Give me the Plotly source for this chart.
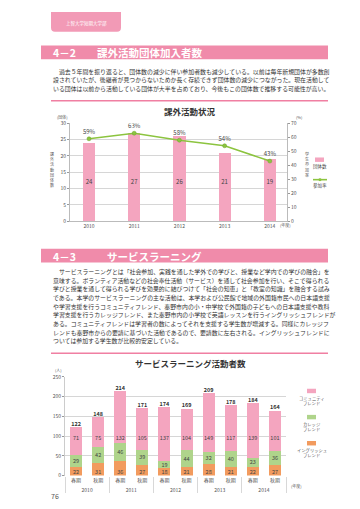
import plotly.graph_objects as go

W, H = 360, 509
def X(p): return p / W
def Y(p): return 1 - p / H

FONT = "Noto Sans CJK JP"

# ---- chart 1 data: 課外活動状況 ----
years1 = ["2010", "2011", "2012", "2013", "2014"]
groups = [24, 27, 26, 21, 19]          # 団体数
rate = [59, 63, 58, 54, 43]            # 参加率 (%)

# ---- chart 2 data: サービスラーニング活動者数 ----
sl_years = ["2010", "2010", "2011", "2011", "2012", "2012", "2013", "2013", "2014", "2014"]
sl_terms = ["春期", "秋期"] * 5
community = [71, 75, 132, 105, 137, 104, 149, 117, 139, 101]
college = [29, 42, 46, 39, 19, 44, 32, 40, 23, 36]
english = [22, 31, 36, 27, 18, 21, 28, 21, 22, 27]
totals = [122, 148, 214, 171, 174, 169, 209, 178, 184, 164]

PINK_HEAD = "#F08BAA"
PINK_BAR = "#F4A5BF"
GREEN_LINE = "#8CC43F"
GREEN_BAR = "#AFD48B"
ORANGE = "#F29B5E"
TXT = "#333333"
GRID = "#d6d6d6"

fig = go.Figure()

# chart 1
fig.add_trace(go.Bar(x=years1, y=groups, marker=dict(color=PINK_BAR, line=dict(width=0)),
                     width=0.27, xaxis="x", yaxis="y", showlegend=False, hoverinfo="skip"))
fig.add_trace(go.Scatter(x=years1, y=[12] * len(years1), mode="text", text=[str(v) for v in groups],
                         textfont=dict(size=6, color="#444", family=FONT),
                         xaxis="x", yaxis="y", showlegend=False, hoverinfo="skip"))
fig.add_trace(go.Scatter(x=years1, y=rate, mode="lines+markers+text",
                         text=[f"{v}%" for v in rate], textposition="top center",
                         textfont=dict(size=6, color="#444", family=FONT),
                         line=dict(color=GREEN_LINE, width=1.6),
                         marker=dict(size=4, color=GREEN_LINE, line=dict(width=0.5, color="#6aa22a")),
                         xaxis="x", yaxis="y2", showlegend=False, hoverinfo="skip"))

# chart 2
xm = [sl_years, sl_terms]
fig.add_trace(go.Bar(x=xm, y=english, marker=dict(color=ORANGE, line=dict(width=0)), width=0.54,
                     xaxis="x2", yaxis="y3", showlegend=False, hoverinfo="skip"))
fig.add_trace(go.Bar(x=xm, y=college, marker=dict(color=GREEN_BAR, line=dict(width=0)), width=0.54,
                     text=[str(v) for v in college], textposition="inside", insidetextanchor="middle",
                     textangle=0, constraintext="none",
                     textfont=dict(size=5.5, color="#444", family=FONT),
                     xaxis="x2", yaxis="y3", showlegend=False, hoverinfo="skip"))
fig.add_trace(go.Bar(x=xm, y=community, marker=dict(color=PINK_BAR, line=dict(width=0)), width=0.54,
                     xaxis="x2", yaxis="y3", showlegend=False, hoverinfo="skip"))
fig.add_trace(go.Scatter(x=xm, y=[8] * 10, mode="text", text=[str(v) for v in english],
                         textfont=dict(size=5.5, color="#444", family=FONT),
                         xaxis="x2", yaxis="y3", showlegend=False, hoverinfo="skip"))
fig.add_trace(go.Scatter(x=xm, y=[93] * 10, mode="text", text=[str(v) for v in community],
                         textfont=dict(size=5.5, color="#444", family=FONT),
                         xaxis="x2", yaxis="y3", showlegend=False, hoverinfo="skip"))
fig.add_trace(go.Scatter(x=xm, y=totals, mode="text", text=[f"<b>{v}</b>" for v in totals],
                         textposition="top center",
                         textfont=dict(size=5.5, color="#333", family=FONT),
                         xaxis="x2", yaxis="y3", showlegend=False, hoverinfo="skip"))

axis_font = dict(size=5, color="#555", family=FONT)

fig.update_layout(
    width=W, height=H, margin=dict(l=0, r=0, t=0, b=0),
    paper_bgcolor="white", plot_bgcolor="white",
    barmode="stack", font=dict(family=FONT, color=TXT),
    xaxis=dict(domain=[X(62), X(279)], anchor="y", type="category", range=[-0.42, 4.38],
               showline=True, linecolor="#bbbbbb", linewidth=1, ticks="", tickfont=axis_font,
               showgrid=False, fixedrange=True),
    yaxis=dict(domain=[Y(212), Y(113)], anchor="x", range=[0, 30], dtick=5,
               showgrid=True, gridcolor=GRID, gridwidth=1, showline=True, linecolor="#bbbbbb",
               ticks="outside", ticklen=2, tickcolor="#999", tickfont=axis_font, zeroline=False),
    yaxis2=dict(overlaying="y", side="right", anchor="x", range=[0, 70], dtick=10,
                showgrid=False, showline=True, linecolor="#bbbbbb",
                ticks="outside", ticklen=2, tickcolor="#999", tickfont=axis_font, zeroline=False),
    xaxis2=dict(domain=[X(57), X(278)], anchor="y3", type="multicategory",
                showdividers=True, dividercolor="#d8d8d8", dividerwidth=1,
                tickfont=axis_font, showgrid=False, showline=False, ticks=""),
    yaxis3=dict(domain=[Y(470), Y(370)], anchor="x2", range=[0, 250], dtick=50,
                showgrid=True, gridcolor=GRID, gridwidth=1, showline=True, linecolor="#cccccc",
                ticks="outside", ticklen=2, tickcolor="#999", tickfont=axis_font, zeroline=False),
)

shapes = []
ann = []

def text(px, py, s, size=6, color=TXT, xanchor="left", yanchor="middle", align="left"):
    ann.append(dict(x=X(px), y=Y(py), xref="paper", yref="paper", text=s, showarrow=False,
                    xanchor=xanchor, yanchor=yanchor, align=align,
                    font=dict(size=size, color=color, family=FONT)))

# top tab with rounded bottom corners
x0, x1, y0, y1, r = 43, 113, 0, 20, 4
path = (f"M {X(x0)},{Y(y0)} L {X(x1)},{Y(y0)} L {X(x1)},{Y(y1 - r)} "
        f"Q {X(x1)},{Y(y1)} {X(x1 - r)},{Y(y1)} L {X(x0 + r)},{Y(y1)} "
        f"Q {X(x0)},{Y(y1)} {X(x0)},{Y(y1 - r)} Z")
shapes.append(dict(type="path", path=path, xref="paper", yref="paper",
                   fillcolor="#F29AB6", line=dict(width=0)))
text(78, 12, "上智大学短期大学部", size=4.5, color="white", xanchor="center")

# section headers
for (ya, yb, num, title, tx) in [(34, 48, "4－2", "課外活動団体加入者数", 87),
                                 (240, 254, "4－3", "サービスラーニング", 97)]:
    shapes.append(dict(type="rect", xref="paper", yref="paper", x0=X(33), x1=X(320),
                       y0=Y(yb), y1=Y(ya), fillcolor=PINK_HEAD, line=dict(width=0)))
    text(43, (ya + yb) / 2 + 0.5, f"<b>{num}</b>", size=10.5, color="white")
    text(tx, (ya + yb) / 2 + 0.5, f"<b>{title}</b>", size=10.5, color="white")

# paragraph 1
p1 = ["　過去５年間を振り返ると、団体数の減少に伴い参加者数も減少している。以前は毎年新規団体が多数創",
      "設されていたが、後継者が見つからないためか長く存続できず団体数の減少につながった。現在活動して",
      "いる団体は以前から活動している団体が大半を占めており、今後もこの団体数で推移する可能性が高い。"]
for i, s in enumerate(p1):
    text(43, 60 + i * 8.6, s, size=5.9)

# paragraph 2
p2 = ["　サービスラーニングとは「社会参加、実践を通した学外での学びと、授業など学内での学びの融合」を",
      "意味する。ボランティア活動などの社会奉仕活動（サービス）を通して社会参加を行い、そこで得られる",
      "学びと授業を通して得られる学びを効果的に結びつけて「社会の知恵」と「教室の知識」を融合する試み",
      "である。本学のサービスラーニングの主な活動は、本学および公民館で地域の外国籍市民への日本語支援",
      "や学習支援を行うコミュニティフレンド、秦野市内の小・中学校で外国籍の子どもへの日本語支援や教科",
      "学習支援を行うカレッジフレンド、また秦野市内の小学校で英語レッスンを行うイングリッシュフレンドが",
      "ある。コミュニティフレンドは学習者の数によってそれを支援する学生数が増減する。同様にカレッジフ",
      "レンドも秦野市からの要請に基づいた活動であるので、要請数に左右される。イングリッシュフレンドに",
      "ついては参加する学生数が比較的安定している。"]
for i, s in enumerate(p2):
    text(43, 263 + i * 8.8, s, size=5.9)

# pink separator lines
for yy in (90, 346):
    shapes.append(dict(type="line", xref="paper", yref="paper", x0=X(43), x1=X(320),
                       y0=Y(yy), y1=Y(yy), line=dict(color="#F07FA2", width=1.3)))

# chart titles
text(182, 100, "<b>課外活動状況</b>", size=8.5, xanchor="center")
text(182, 356, "<b>サービスラーニング活動者数</b>", size=8.5, xanchor="center")

# unit labels
text(54, 106, "(団体)", size=4, color="#555", xanchor="center")
text(291, 106, "(%)", size=4, color="#555", xanchor="center")
text(277, 216, "(年度)", size=4, color="#555", xanchor="center")
text(50, 363, "(人)", size=4, color="#555", xanchor="center")
text(288, 481, "(年度)", size=4, color="#555", xanchor="center")
text(47, 491, "76", size=7, color="#555", xanchor="center")

# vertical axis titles
text(44, 160, "<br>".join("課外活動団体数"), size=4, color="#555", xanchor="center", align="center")
text(299, 155, "<br>".join("学生参加率"), size=4, color="#555", xanchor="center", align="center")

# legend chart 1
shapes.append(dict(type="rect", xref="paper", yref="paper", x0=X(307), x1=X(316),
                   y0=Y(152), y1=Y(147.5), fillcolor=PINK_BAR, line=dict(width=0)))
text(312, 157, "団体数", size=4.5, color="#444", xanchor="center")
shapes.append(dict(type="line", xref="paper", yref="paper", x0=X(305), x1=X(319),
                   y0=Y(170), y1=Y(170), line=dict(color=GREEN_LINE, width=1.6)))
shapes.append(dict(type="circle", xref="paper", yref="paper", x0=X(310.5), x1=X(313.5),
                   y0=Y(171.5), y1=Y(168.5), fillcolor=GREEN_LINE, line=dict(width=0)))
text(312, 176, "参加率", size=4.5, color="#444", xanchor="center")

# legend chart 2
for (col, ys, l1, l2) in [(PINK_BAR, 382, "コミュニティ", "フレンド"),
                          (GREEN_BAR, 408.5, "カレッジ", "フレンド"),
                          (ORANGE, 435, "イングリッシュ", "フレンド")]:
    shapes.append(dict(type="rect", xref="paper", yref="paper", x0=X(299), x1=X(308),
                       y0=Y(ys + 4.5), y1=Y(ys), fillcolor=col, line=dict(width=0)))
    text(303.5, ys + 9.5, l1, size=4.3, color="#555", xanchor="center")
    text(303.5, ys + 14.5, l2, size=4.3, color="#555", xanchor="center")

fig.update_layout(shapes=shapes, annotations=ann)
fig.write_html("out.html")
